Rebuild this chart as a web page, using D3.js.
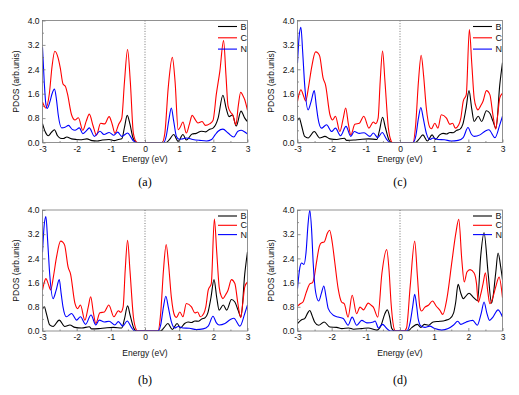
<!DOCTYPE html>
<html><head><meta charset="utf-8">
<script src="https://cdn.jsdelivr.net/npm/d3@7/dist/d3.min.js"></script>
<style>body{margin:0;background:#fff}svg{display:block}</style>
</head><body>
<svg id="chart" width="519" height="395"></svg>
<script>
// ---------- data ----------
const xTicks = [-3, -2, -1, 0, 1, 2, 3];
const xMinor = [-2.5, -1.5, -0.5, 0.5, 1.5, 2.5];
const yTicks = [0, 0.8, 1.6, 2.4, 3.2, 4.0];
const yMinor = [0.4, 1.2, 2.0, 2.8, 3.6];
const seriesNames = ["B", "C", "N"];
const seriesColors = ["#000000", "#ff0000", "#0000ff"];
const panelLabels = ["(a)", "(b)", "(c)", "(d)"];
const xTitle = "Energy (eV)";
const yTitle = "PDOS (arb.unis)";

// panel (a)
const aB = [[-3.00,0.62],[-2.92,0.35],[-2.83,0.22],[-2.74,0.33],[-2.65,0.42],[-2.56,0.22],[-2.48,0.14],[-2.39,0.13],[-2.29,0.18],[-2.15,0.12],[-2.0,0.1],[-1.85,0.09],[-1.70,0.12],[-1.55,0.06],[-1.40,0.05],[-1.25,0.08],[-1.05,0.1],[-0.90,0.06],[-0.78,0.1],[-0.68,0.12],[-0.60,0.5],[-0.52,0.89],[-0.44,0.6],[-0.35,0.15],[-0.25,0],[0.62,0],[0.72,0.1],[0.84,0.26],[0.97,0.04],[1.11,0.26],[1.21,0.08],[1.38,0.28],[1.50,0.3],[1.65,0.37],[1.78,0.35],[1.87,0.42],[1.99,0.47],[2.14,0.8],[2.28,1.55],[2.38,1.1],[2.46,0.85],[2.56,0.9],[2.67,0.54],[2.81,1.03],[2.92,0.8],[3.0,0.68]];
const aC = [[-3.00,1.33],[-2.90,1.13],[-2.80,1.6],[-2.72,2.5],[-2.64,2.99],[-2.55,2.8],[-2.48,2.45],[-2.40,1.92],[-2.33,1.84],[-2.27,1.6],[-2.15,0.91],[-2.05,0.74],[-1.95,0.81],[-1.82,0.40],[-1.72,0.7],[-1.63,0.93],[-1.52,0.55],[-1.42,0.24],[-1.30,0.63],[-1.18,0.61],[-1.05,0.85],[-0.96,0.6],[-0.88,0.30],[-0.77,0.6],[-0.68,0.80],[-0.60,2.0],[-0.51,3.05],[-0.43,2.0],[-0.34,0.3],[-0.25,0.02],[-0.2,0],[0.5,0],[0.58,0.3],[0.68,1.8],[0.80,2.79],[0.88,2.0],[0.97,0.42],[1.03,0.5],[1.11,0.67],[1.21,0.31],[1.30,0.6],[1.38,0.89],[1.47,0.75],[1.55,0.64],[1.67,0.69],[1.77,0.56],[1.89,0.61],[1.99,0.72],[2.09,1.6],[2.19,2.33],[2.30,3.34],[2.37,2.2],[2.43,1.2],[2.50,1.0],[2.57,0.9],[2.66,0.58],[2.73,1.2],[2.80,1.65],[2.86,1.55],[2.92,1.40],[3.0,1.05]];
const aN = [[-3.00,3.12],[-2.95,2.0],[-2.90,1.25],[-2.86,1.12],[-2.78,1.35],[-2.72,1.6],[-2.65,1.75],[-2.59,1.4],[-2.54,0.91],[-2.44,0.48],[-2.34,0.5],[-2.24,0.56],[-2.13,0.43],[-2.05,0.40],[-1.92,0.48],[-1.82,0.29],[-1.72,0.38],[-1.63,0.48],[-1.48,0.20],[-1.32,0.37],[-1.20,0.26],[-1.05,0.33],[-0.91,0.24],[-0.80,0.34],[-0.68,0.20],[-0.51,0.31],[-0.40,0.15],[-0.34,0.05],[-0.25,0],[0.55,0],[0.62,0.2],[0.70,0.75],[0.77,1.13],[0.84,0.7],[0.92,0.2],[1.01,0.1],[1.10,0.12],[1.21,0.15],[1.40,0.1],[1.6,0.07],[1.8,0.05],[1.95,0.1],[2.05,0.25],[2.14,0.37],[2.28,0.44],[2.43,0.31],[2.60,0.18],[2.72,0.37],[2.82,0.40],[2.96,0.31],[3.0,0.28]];

// panel (b)
const bB = [[-3.00,0.72],[-2.95,0.80],[-2.88,0.55],[-2.79,0.2],[-2.69,0.15],[-2.51,0.36],[-2.35,0.15],[-2.20,0.2],[-2.05,0.12],[-1.85,0.1],[-1.63,0.14],[-1.56,0.07],[-1.35,0.08],[-1.17,0.1],[-0.92,0.12],[-0.68,0.1],[-0.60,0.4],[-0.51,0.83],[-0.43,0.5],[-0.33,0.1],[-0.25,0],[0.45,0],[0.55,0.1],[0.67,0.25],[0.80,0.05],[0.94,0.25],[1.04,0.1],[1.16,0.25],[1.26,0.3],[1.36,0.28],[1.46,0.33],[1.56,0.32],[1.66,0.4],[1.75,0.43],[1.84,0.6],[1.93,1.1],[2.02,1.70],[2.10,1.1],[2.17,0.69],[2.29,0.86],[2.39,0.69],[2.53,1.04],[2.63,0.96],[2.72,0.7],[2.81,0.47],[2.92,1.89],[3.0,2.62]];
const bC = [[-3.00,1.35],[-2.95,1.6],[-2.90,1.73],[-2.83,1.55],[-2.76,1.36],[-2.68,1.8],[-2.59,2.44],[-2.47,2.97],[-2.40,2.93],[-2.35,2.83],[-2.25,2.11],[-2.18,1.89],[-2.05,0.91],[-1.97,0.74],[-1.89,0.86],[-1.76,0.36],[-1.66,0.8],[-1.59,1.13],[-1.51,0.6],[-1.44,0.25],[-1.32,0.6],[-1.19,0.63],[-1.06,0.86],[-0.91,0.47],[-0.78,0.67],[-0.71,0.62],[-0.64,0.8],[-0.58,2.0],[-0.51,3.0],[-0.44,2.0],[-0.34,0.47],[-0.26,0.05],[-0.22,0],[0.38,0],[0.46,0.6],[0.54,2.0],[0.62,2.86],[0.69,2.2],[0.77,1.13],[0.87,0.5],[0.92,0.45],[1.02,0.63],[1.11,0.47],[1.21,0.91],[1.36,0.8],[1.46,0.6],[1.54,0.63],[1.62,0.47],[1.72,0.58],[1.78,0.8],[1.85,1.35],[1.94,1.57],[2.03,3.7],[2.10,2.6],[2.17,1.46],[2.24,1.13],[2.28,1.07],[2.36,1.2],[2.43,1.35],[2.53,1.70],[2.63,1.57],[2.72,0.9],[2.80,0.44],[2.86,0.9],[2.92,1.46],[3.0,1.62]];
const bN = [[-3.00,2.6],[-2.95,3.5],[-2.90,3.78],[-2.85,3.0],[-2.79,1.89],[-2.69,1.07],[-2.60,1.35],[-2.51,1.70],[-2.45,1.2],[-2.40,0.80],[-2.30,0.47],[-2.15,0.58],[-2.00,0.36],[-1.89,0.47],[-1.74,0.22],[-1.58,0.53],[-1.44,0.2],[-1.34,0.36],[-1.19,0.30],[-1.05,0.32],[-0.88,0.2],[-0.78,0.31],[-0.65,0.16],[-0.52,0.33],[-0.40,0.12],[-0.30,0],[0.38,0],[0.46,0.2],[0.54,0.8],[0.61,1.15],[0.68,0.8],[0.77,0.31],[0.87,0.1],[0.97,0.15],[1.11,0.1],[1.30,0.09],[1.50,0.05],[1.70,0.07],[1.85,0.16],[1.99,0.49],[2.09,0.27],[2.17,0.2],[2.34,0.25],[2.50,0.38],[2.60,0.42],[2.78,0.16],[2.92,0.58],[3.0,0.86]];

// panel (c)
const cB = [[-3.00,0.72],[-2.95,0.80],[-2.88,0.55],[-2.79,0.2],[-2.69,0.15],[-2.51,0.36],[-2.35,0.15],[-2.20,0.2],[-2.05,0.12],[-1.85,0.1],[-1.63,0.14],[-1.56,0.07],[-1.35,0.08],[-1.17,0.1],[-0.92,0.12],[-0.68,0.1],[-0.60,0.4],[-0.51,0.83],[-0.43,0.5],[-0.33,0.1],[-0.25,0],[0.45,0],[0.55,0.1],[0.67,0.25],[0.80,0.05],[0.94,0.25],[1.04,0.1],[1.16,0.25],[1.26,0.3],[1.36,0.28],[1.46,0.33],[1.56,0.32],[1.66,0.4],[1.75,0.43],[1.84,0.6],[1.93,1.1],[2.02,1.70],[2.10,1.1],[2.17,0.69],[2.29,0.86],[2.39,0.69],[2.53,1.04],[2.63,0.96],[2.72,0.7],[2.81,0.47],[2.92,1.89],[3.0,2.62]];
const cC = [[-3.00,1.35],[-2.95,1.6],[-2.90,1.73],[-2.83,1.55],[-2.76,1.36],[-2.68,1.8],[-2.59,2.44],[-2.47,2.97],[-2.40,2.93],[-2.35,2.83],[-2.25,2.11],[-2.18,1.89],[-2.05,0.91],[-1.97,0.74],[-1.89,0.86],[-1.76,0.36],[-1.66,0.8],[-1.59,1.13],[-1.51,0.6],[-1.44,0.25],[-1.32,0.6],[-1.19,0.63],[-1.06,0.86],[-0.91,0.47],[-0.78,0.67],[-0.71,0.62],[-0.64,0.8],[-0.58,2.0],[-0.51,3.0],[-0.44,2.0],[-0.34,0.47],[-0.26,0.05],[-0.22,0],[0.38,0],[0.46,0.6],[0.54,2.0],[0.62,2.86],[0.69,2.2],[0.77,1.13],[0.87,0.5],[0.92,0.45],[1.02,0.63],[1.11,0.47],[1.21,0.91],[1.36,0.8],[1.46,0.6],[1.54,0.63],[1.62,0.47],[1.72,0.58],[1.78,0.8],[1.85,1.35],[1.94,1.57],[2.03,3.7],[2.10,2.6],[2.17,1.46],[2.24,1.13],[2.28,1.07],[2.36,1.2],[2.43,1.35],[2.53,1.70],[2.63,1.57],[2.72,0.9],[2.80,0.44],[2.86,0.9],[2.92,1.46],[3.0,1.62]];
const cN = [[-3.00,2.6],[-2.95,3.5],[-2.90,3.78],[-2.85,3.0],[-2.79,1.89],[-2.69,1.07],[-2.60,1.35],[-2.51,1.70],[-2.45,1.2],[-2.40,0.80],[-2.30,0.47],[-2.15,0.58],[-2.00,0.36],[-1.89,0.47],[-1.74,0.22],[-1.58,0.53],[-1.44,0.2],[-1.34,0.36],[-1.19,0.30],[-1.05,0.32],[-0.88,0.2],[-0.78,0.31],[-0.65,0.16],[-0.52,0.33],[-0.40,0.12],[-0.30,0],[0.38,0],[0.46,0.2],[0.54,0.8],[0.61,1.15],[0.68,0.8],[0.77,0.31],[0.87,0.1],[0.97,0.15],[1.11,0.1],[1.30,0.09],[1.50,0.05],[1.70,0.07],[1.85,0.16],[1.99,0.49],[2.09,0.27],[2.17,0.2],[2.34,0.25],[2.50,0.38],[2.60,0.42],[2.78,0.16],[2.92,0.58],[3.0,0.86]];

// panel (d)
const dB = [[-3.00,0.24],[-2.88,0.37],[-2.79,0.41],[-2.70,0.6],[-2.64,0.68],[-2.57,0.5],[-2.50,0.3],[-2.38,0.19],[-2.22,0.3],[-2.05,0.13],[-1.85,0.12],[-1.70,0.08],[-1.50,0.1],[-1.36,0.06],[-1.12,0.08],[-0.93,0.1],[-0.68,0.03],[-0.55,0.2],[-0.45,0.55],[-0.37,0.70],[-0.30,0.45],[-0.24,0.08],[-0.16,0],[0.23,0],[0.35,0.12],[0.51,0.22],[0.61,0.12],[0.71,0.22],[0.83,0.19],[0.97,0.3],[1.17,0.32],[1.32,0.35],[1.46,0.41],[1.57,0.6],[1.63,0.95],[1.70,1.54],[1.78,1.25],[1.85,1.07],[1.91,1.13],[2.02,1.25],[2.14,1.12],[2.27,1.0],[2.36,2.45],[2.46,3.25],[2.58,1.9],[2.68,0.92],[2.80,1.9],[2.87,2.58],[2.95,2.1],[3.0,1.7]];
const dC = [[-3.00,0.82],[-2.92,0.9],[-2.84,0.96],[-2.74,1.29],[-2.64,1.56],[-2.56,1.6],[-2.50,1.85],[-2.44,2.3],[-2.36,2.8],[-2.30,2.92],[-2.22,2.94],[-2.12,3.25],[-2.06,3.33],[-1.98,2.9],[-1.91,2.28],[-1.81,1.40],[-1.71,0.96],[-1.63,0.9],[-1.52,0.46],[-1.40,1.18],[-1.27,0.57],[-1.17,0.79],[-1.07,0.7],[-0.93,0.92],[-0.84,0.85],[-0.78,0.79],[-0.65,0.46],[-0.53,1.9],[-0.39,2.69],[-0.32,2.0],[-0.26,0.9],[-0.15,0.02],[-0.1,0],[0.12,0],[0.19,0.1],[0.3,1.5],[0.43,2.97],[0.51,1.8],[0.58,0.79],[0.63,0.66],[0.73,0.79],[0.83,0.85],[0.95,0.99],[1.07,0.81],[1.17,0.68],[1.25,0.55],[1.38,1.12],[1.52,2.3],[1.63,3.2],[1.72,3.69],[1.81,2.34],[1.88,1.62],[1.96,1.95],[2.05,2.03],[2.17,1.92],[2.24,1.56],[2.29,0.95],[2.36,1.2],[2.43,1.56],[2.50,1.92],[2.57,1.3],[2.63,0.90],[2.70,1.05],[2.80,1.45],[2.90,1.78],[3.0,1.1]];
const dN = [[-3.00,1.40],[-2.93,2.1],[-2.88,2.25],[-2.81,2.2],[-2.75,2.6],[-2.69,3.55],[-2.64,3.99],[-2.59,3.4],[-2.54,2.23],[-2.47,1.29],[-2.38,0.99],[-2.30,1.25],[-2.23,1.49],[-2.16,1.1],[-2.10,0.74],[-1.95,0.52],[-1.81,0.46],[-1.66,0.41],[-1.52,0.19],[-1.40,0.46],[-1.27,0.19],[-1.12,0.35],[-0.97,0.27],[-0.78,0.30],[-0.73,0.33],[-0.63,0.1],[-0.51,0.22],[-0.40,0.1],[-0.28,0],[0.2,0],[0.3,0.3],[0.37,0.8],[0.43,1.21],[0.49,0.8],[0.53,0.42],[0.61,0.17],[0.73,0.12],[0.87,0.16],[1.02,0.08],[1.22,0.03],[1.41,0.08],[1.56,0.19],[1.69,0.32],[1.78,0.22],[1.94,0.3],[2.13,0.35],[2.26,0.19],[2.38,0.6],[2.46,0.96],[2.54,0.6],[2.62,0.35],[2.72,0.46],[2.87,0.70],[3.0,0.46]];

// ---------- layout ----------
const panels = [
  {label: panelLabels[0], series: [aB, aC, aN], x0: 42.5, x1: 247.5, y0: 20.5, y1: 142.5, legGap: 11.3, titleY: 161.5, labY: 186},
  {label: panelLabels[1], series: [bB, bC, bN], x0: 42.5, x1: 247.5, y0: 210, y1: 331, legGap: 9.3, titleY: 355.5, labY: 384},
  {label: panelLabels[2], series: [cB, cC, cN], x0: 297.5, x1: 502.5, y0: 20.5, y1: 142.5, legGap: 11.3, titleY: 161.5, labY: 186},
  {label: panelLabels[3], series: [dB, dC, dN], x0: 297.5, x1: 502.5, y0: 210, y1: 331, legGap: 9.3, titleY: 355.5, labY: 384}
];

const svg = d3.select("#chart");
const FONT = "'Liberation Sans', Arial, sans-serif";

panels.forEach((p, i) => {
  const x = d3.scaleLinear().domain([-3, 3]).range([p.x0, p.x1]);
  const y = d3.scaleLinear().domain([0, 4]).range([p.y1, p.y0]);
  const g = svg.append("g");
  const cid = "clip" + i;
  g.append("clipPath").attr("id", cid).append("rect")
    .attr("x", p.x0).attr("y", p.y0).attr("width", p.x1 - p.x0).attr("height", p.y1 - p.y0);

  // zero line
  g.append("line").attr("x1", x(0)).attr("x2", x(0)).attr("y1", p.y0).attr("y2", p.y1)
    .attr("stroke", "#555").attr("stroke-width", 0.8).attr("stroke-dasharray", "1,1.6");

  // curves
  const line = d3.line().x(d => x(d[0])).y(d => y(d[1])).curve(d3.curveMonotoneX);
  p.series.forEach((s, k) => {
    g.append("path").datum(s).attr("d", line).attr("fill", "none")
      .attr("stroke", seriesColors[k]).attr("stroke-width", 1.1).attr("clip-path", `url(#${cid})`);
  });

  // axes
  const xAxis = g.append("g").attr("transform", `translate(0,${p.y1})`)
    .call(d3.axisBottom(x).tickValues(xTicks).tickSize(-3).tickPadding(3).tickFormat(d3.format("d")));
  g.append("g").attr("transform", `translate(0,${p.y1})`)
    .call(d3.axisBottom(x).tickValues(xMinor).tickSize(-1.5).tickFormat(""));
  g.append("g").attr("transform", `translate(${p.x0},0)`)
    .call(d3.axisLeft(y).tickValues(yTicks).tickSize(-3).tickPadding(3).tickFormat(d3.format(".1f")));
  g.append("g").attr("transform", `translate(${p.x0},0)`)
    .call(d3.axisLeft(y).tickValues(yMinor).tickSize(-1.5).tickFormat(""));
  g.selectAll(".domain").remove();
  g.selectAll(".tick line").attr("stroke", "#666").attr("stroke-width", 0.7);
  g.selectAll(".tick text").attr("font-family", FONT).attr("font-size", 8.5).attr("fill", "#111");
  xAxis.selectAll(".tick text").text(d => d < 0 ? "-" + Math.abs(d) : d);

  // frame
  g.append("rect").attr("x", p.x0).attr("y", p.y0).attr("width", p.x1 - p.x0).attr("height", p.y1 - p.y0)
    .attr("fill", "none").attr("stroke", "#777").attr("stroke-width", 0.8);

  // legend
  seriesNames.forEach((n, k) => {
    const ly = p.y0 + 6 + k * p.legGap;
    g.append("line").attr("x1", p.x1 - 29.5).attr("x2", p.x1 - 10.5).attr("y1", ly).attr("y2", ly)
      .attr("stroke", seriesColors[k]).attr("stroke-width", 1.1);
    g.append("text").attr("x", p.x1 - 7).attr("y", ly).attr("dy", "0.35em")
      .attr("font-family", FONT).attr("font-size", 9).attr("fill", "#111").text(n);
  });

  // titles
  g.append("text").attr("x", (p.x0 + p.x1) / 2).attr("y", p.titleY).attr("text-anchor", "middle")
    .attr("font-family", FONT).attr("font-size", 8.5).attr("fill", "#111").text(xTitle);
  g.append("text").attr("transform", `translate(${p.x0 - 23.5},${(p.y0 + p.y1) / 2}) rotate(-90)`)
    .attr("text-anchor", "middle").attr("font-family", FONT).attr("font-size", 8.5).attr("fill", "#111").text(yTitle);
  g.append("text").attr("x", (p.x0 + p.x1) / 2).attr("y", p.labY).attr("text-anchor", "middle")
    .attr("font-family", "'Liberation Serif', 'Times New Roman', serif").attr("font-size", 12).attr("fill", "#000").text(p.label);
});
</script>
</body></html>
